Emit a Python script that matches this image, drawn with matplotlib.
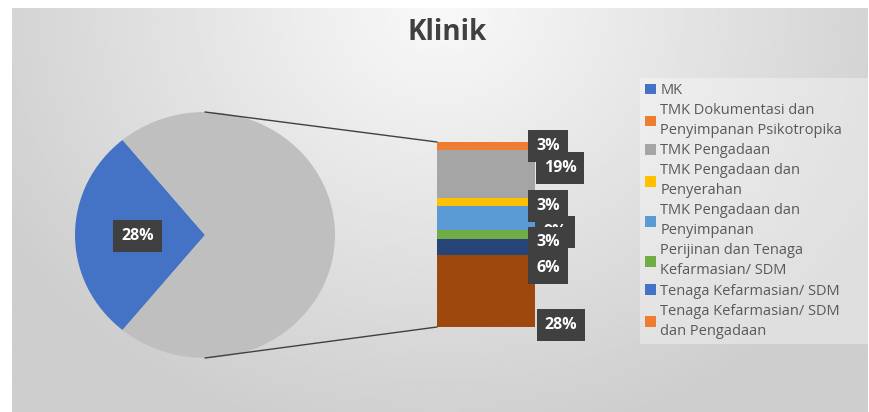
import numpy as np
import matplotlib
matplotlib.use("Agg")
import matplotlib.pyplot as plt
from matplotlib.patches import Patch, ConnectionPatch

plt.rcParams["font.family"] = ["Open Sans", "DejaVu Sans"]

# --- data ---
categories = [
    "MK",
    "TMK Dokumentasi dan\nPenyimpanan Psikotropika",
    "TMK Pengadaan",
    "TMK Pengadaan dan\nPenyerahan",
    "TMK Pengadaan dan\nPenyimpanan",
    "Perijinan dan Tenaga\nKefarmasian/ SDM",
    "Tenaga Kefarmasian/ SDM",
    "Tenaga Kefarmasian/ SDM\ndan Pengadaan",
]
counts = [9, 1, 6, 1, 3, 1, 2, 9]
bar_colors = ["#ED7D31", "#A5A5A5", "#FFC000", "#5B9BD5", "#70AD47", "#264478", "#9E480E"]
legend_colors = ["#4472C4", "#ED7D31", "#A5A5A5", "#FFC000", "#5B9BD5", "#70AD47", "#4472C4", "#ED7D31"]
title = "Klinik"

W, H = 870, 412
total = sum(counts)
pct = [100 * c / total for c in counts]
bar_vals = counts[1:]
other = sum(bar_vals)

fig = plt.figure(figsize=(W / 100, H / 100), dpi=100)
fig.patch.set_facecolor("white")


def px_axes(x0, y0, x1, y1, **kw):
    # axes from image pixel box (top-left origin)
    return fig.add_axes([x0 / W, 1 - y1 / H, (x1 - x0) / W, (y1 - y0) / H], **kw)


# --- background gradient ---
bg = px_axes(12, 8, 868, 412)
gx, gy = np.meshgrid(np.linspace(-1, 1, 300), np.linspace(0, 1, 150))
shade = 0.975 - 0.17 * np.clip(np.sqrt((gx / 1.2) ** 2 + (gy / 1.1) ** 2), 0, 1)
bg.imshow(shade, cmap="gray", vmin=0, vmax=1, aspect="auto", interpolation="bilinear")
bg.axis("off")

# --- pie ---
ax_pie = px_axes(75, 112, 335, 358)
start = 180 - pct[0] * 3.6 / 2
ax_pie.pie([counts[0], other], colors=["#4472C4", "#BFBFBF"], startangle=start,
           counterclock=True, radius=1)
ax_pie.set_aspect("auto")
ax_pie.set_xlim(-1, 1)
ax_pie.set_ylim(-1, 1)
box = dict(boxstyle="square,pad=0.5", fc="#404040", ec="none")
ax_pie.text(-0.52, -0.01, f"{pct[0]:.0f}%", ha="center", va="center", color="white",
            fontsize=11.5, fontweight="bold", bbox=box)

# --- bar of other ---
ax_bar = px_axes(437, 142, 535, 327)
tops = other - np.concatenate([[0], np.cumsum(bar_vals)[:-1]])
bottoms = tops - np.array(bar_vals)
ax_bar.bar(0, bar_vals, bottom=bottoms, width=1, color=bar_colors, edgecolor="none")
ax_bar.set_xlim(-0.5, 0.5)
ax_bar.set_ylim(0, other)
ax_bar.axis("off")

# label offsets in pixels (dx, dy) from right edge / segment centre
offsets = [(13, 0), (25, 6), (13, -4), (20, -14), (13, -8), (13, -21), (26, -34)]
zorders = [3, 5, 4, 2, 6, 7, 8]
for v, b, (dx, dy), z, p in zip(bar_vals, bottoms, offsets, zorders, pct[1:]):
    ax_bar.annotate(f"{p:.0f}%", xy=(0.5, b + v / 2), xytext=(dx, dy),
                    textcoords="offset pixels", ha="center", va="center",
                    color="white", fontsize=11.5, fontweight="bold", zorder=z,
                    annotation_clip=False, bbox=box)

# connector lines
for py, by in [(1, other), (-1, 0)]:
    con = ConnectionPatch(xyA=(0, py), coordsA=ax_pie.transData,
                          xyB=(-0.5, by), coordsB=ax_bar.transData,
                          color="#404040", lw=1)
    fig.add_artist(con)

# --- legend ---
handles = [Patch(facecolor=c, edgecolor="none") for c in legend_colors]
leg = fig.legend(handles, categories, loc="upper left",
                 bbox_to_anchor=(640 / W, 1 - 361 / H, 228 / W, 283 / H), mode="expand",
                 frameon=True, fontsize=10.5, handlelength=0.75, handleheight=0.75,
                 handletextpad=0.3, labelspacing=0.35, borderpad=0.35,
                 borderaxespad=0, fancybox=False)
leg.get_frame().set_facecolor("white")
leg.get_frame().set_alpha(0.35)
leg.get_frame().set_edgecolor("none")
for t in leg.get_texts():
    t.set_color("#595959")
    t.set_linespacing(1.45)

fig.text(447 / W, 1 - 32 / H, title, ha="center", va="center", fontsize=20,
         fontweight="bold", color="#404040")

fig.savefig("out.png", dpi=100)
